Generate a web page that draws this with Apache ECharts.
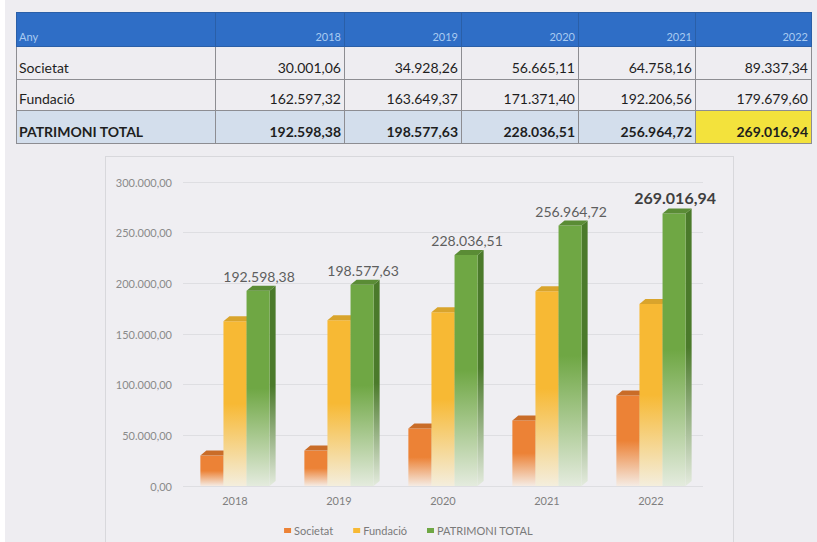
<!DOCTYPE html>
<html>
<head>
<meta charset="utf-8">
<script src="https://cdn.jsdelivr.net/npm/echarts@6/dist/echarts.min.js"></script>
<style>
  html, body {
    margin: 0;
    padding: 0;
    width: 817px;
    height: 542px;
    overflow: hidden;
    background: #ffffff;
    font-family: Lato, "Open Sans", sans-serif;
  }
  .panel {
    position: absolute;
    left: 5px;
    top: 0;
    width: 812px;
    height: 542px;
    background: #eeedf1;
  }
  .data-table {
    position: absolute;
    left: 16px;
    top: 12px;
    width: 795px;
    border-collapse: collapse;
    table-layout: fixed;
    color: #1e1e1e;
    font-size: 14px;
  }
  .data-table td {
    border: 1px solid #8d8d92;
    padding: 0 3px 3px 2px;
    vertical-align: bottom;
    text-align: right;
    white-space: nowrap;
  }
  .data-table td:first-child {
    text-align: left;
  }
  .data-table tr.head td {
    background: #2f6ec6;
    color: #a9cbf1;
    font-size: 11px;
    height: 30px;
    border-color: #2a5fa8;
  }
  .data-table tr.row1 td { height: 29px; }
  .data-table tr.row2 td { height: 27px; }
  .data-table tr.total td {
    background: #d3deec;
    font-weight: bold;
    height: 29px;
  }
  .data-table tr.total td.hl {
    background: #f3e23c;
  }
  .chart-frame {
    position: absolute;
    left: 105px;
    top: 156px;
    width: 627px;
    height: 420px;
    border: 1px solid #d8d8dc;
    background: #efeef2;
  }
  #chart {
    position: absolute;
    left: 0;
    top: 0;
    width: 817px;
    height: 542px;
  }
</style>
</head>
<body>
<div class="panel"></div>
<table class="data-table" id="tbl"></table>
<div class="chart-frame"></div>
<div id="chart"></div>
<script>
const years = ['2018', '2019', '2020', '2021', '2022']
const societat = [30001.06, 34928.26, 56665.11, 64758.16, 89337.34]
const fundacio = [162597.32, 163649.37, 171371.40, 192206.56, 179679.60]
const patrimoni = [192598.38, 198577.63, 228036.51, 256964.72, 269016.94]
const seriesNames = ['Societat', 'Fundació', 'PATRIMONI TOTAL']

// catalan number format: 192.598,38
function fmt(v) {
  const parts = v.toFixed(2).split('.')
  const int = parts[0].replace(/\B(?=(\d{3})+(?!\d))/g, '.')
  return int + ',' + parts[1]
}

function buildTable() {
  const tbl = document.getElementById('tbl')
  const widths = [199, 129, 117, 117, 117, 116]
  let html = '<colgroup>' + widths.map((w) => `<col style="width:${w}px">`).join('') + '</colgroup>'
  html += '<tr class="head"><td>Any</td>' + years.map((y) => `<td>${y}</td>`).join('') + '</tr>'
  html += '<tr class="row1"><td>Societat</td>' + societat.map((v) => `<td>${fmt(v)}</td>`).join('') + '</tr>'
  html += '<tr class="row2"><td>Fundació</td>' + fundacio.map((v) => `<td>${fmt(v)}</td>`).join('') + '</tr>'
  html += '<tr class="total"><td>PATRIMONI TOTAL</td>' + patrimoni.map((v, i) => {
    const cls = i === patrimoni.length - 1 ? ' class="hl"' : ''
    return `<td${cls}>${fmt(v)}</td>`
  }).join('') + '</tr>'
  tbl.innerHTML = html
}
buildTable()

const palette = [
  { front: '#ec8236', side: '#b8621f', top: '#c96c28', fade: '#f5ebe3' },
  { front: '#f7b934', side: '#c99522', top: '#d9a42c', fade: '#f4eedd' },
  { front: '#6fa744', side: '#4b7a2b', top: '#5a8c35', fade: '#e4ebde' }
]

function fadeGrad(c, fade) {
  return new echarts.graphic.LinearGradient(0, 0, 0, 1, [
    { offset: 0, color: c },
    { offset: 0.5, color: c },
    { offset: 1, color: fade }
  ])
}

function makeRender(idx) {
  const col = palette[idx]
  return function (params, api) {
    const cat = api.value(0)
    const val = api.value(1)
    const top = api.coord([cat, val])
    const base = api.coord([cat, 0])
    const band = api.size([1, 0])[0]
    const w = band * 0.222
    const cx = top[0] + (idx - 1) * w
    const x0 = cx - w / 2
    const x1 = cx + w / 2
    const dx = 6
    const dy = -5
    const children = [
      {
        type: 'polygon',
        shape: { points: [[x1, top[1]], [x1 + dx, top[1] + dy], [x1 + dx, base[1] + dy], [x1, base[1]]] },
        style: { fill: fadeGrad(col.side, col.fade) }
      },
      {
        type: 'rect',
        shape: { x: x0, y: top[1], width: w, height: base[1] - top[1] },
        style: { fill: fadeGrad(col.front, col.fade) }
      },
      {
        type: 'polygon',
        shape: { points: [[x0, top[1]], [x0 + dx, top[1] + dy], [x1 + dx, top[1] + dy], [x1, top[1]]] },
        style: { fill: col.top }
      }
    ]
    if (idx === 2) {
      const last = params.dataIndex === patrimoni.length - 1
      children.push({
        type: 'text',
        x: cx + 1,
        y: top[1] - (last ? 8 : 7),
        style: {
          text: fmt(val),
          align: 'center',
          verticalAlign: 'bottom',
          fill: last ? '#3f3f3f' : '#5e5e5e',
          font: (last ? 'bold 16px ' : '14px ') + 'Lato, "Open Sans", sans-serif'
        }
      })
    }
    return { type: 'group', children }
  }
}

const seriesValues = [societat, fundacio, patrimoni]

const chart = echarts.init(document.getElementById('chart'), null, { renderer: 'svg' })
chart.setOption({
  backgroundColor: 'transparent',
  animation: false,
  textStyle: { fontFamily: 'Lato, "Open Sans", sans-serif' },
  grid: { left: 183, right: 114, top: 182, bottom: 56 },
  legend: {
    top: 520,
    left: 'center',
    itemWidth: 7,
    itemHeight: 5,
    itemGap: 20,
    icon: 'rect',
    textStyle: { color: '#7a7a7a', fontSize: 11, padding: [0, 0, 0, -2] },
    data: seriesNames
  },
  xAxis: {
    type: 'category',
    data: years,
    axisLine: { show: false },
    axisTick: { show: false },
    axisLabel: { color: '#7f7f7f', fontSize: 11, margin: 9 }
  },
  yAxis: {
    type: 'value',
    min: 0,
    max: 300000,
    interval: 50000,
    axisLine: { show: false },
    axisTick: { show: false },
    axisLabel: { color: '#8a8a8a', fontSize: 11, margin: 11, formatter: (v) => fmt(v) },
    splitLine: { lineStyle: { color: '#dedee2', width: 1 } }
  },
  series: seriesValues.map((vals, i) => ({
    type: 'custom',
    name: seriesNames[i],
    renderItem: makeRender(i),
    itemStyle: { color: palette[i].front },
    encode: { x: 0, y: 1 },
    data: vals.map((v, j) => [j, v]),
    z: 2 + i
  }))
})
</script>
</body>
</html>
